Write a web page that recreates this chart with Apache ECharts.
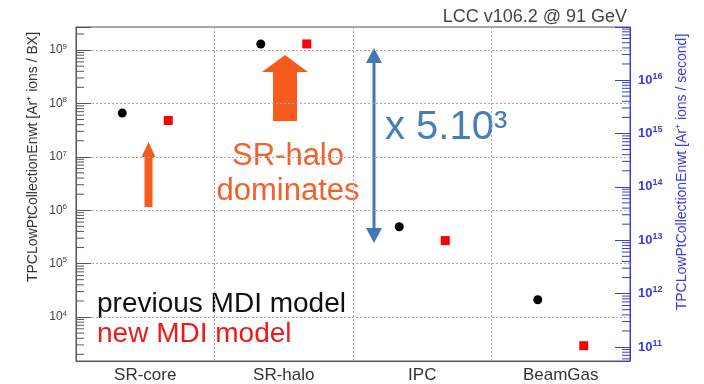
<!DOCTYPE html>
<html><head><meta charset="utf-8">
<script src="https://cdn.jsdelivr.net/npm/echarts@6/dist/echarts.min.js"></script>
<style>html,body{margin:0;padding:0;background:#fff}#c{width:704px;height:384px}</style>
</head><body><div id="c"></div>
<script>
const categories = ['SR-core', 'SR-halo', 'IPC', 'BeamGas'];
const previousModel = [6.6e7, 1.3e9, 4.9e5, 2.1e4];
const newModel = [4.8e7, 1.3e9, 2.7e5, 2.9e3];
const leftRange = [1500, 2.7e9];
const bxToSecond = 3.65e7;
const titleText = 'LCC v106.2 @ 91 GeV';
const leftTitle = 'TPCLowPtCollectionEnwt [Ar\u207A ions / BX]';
const rightTitle = 'TPCLowPtCollectionEnwt [Ar\u207A ions / second]';

const FONT = 'Liberation Sans, Arial, sans-serif';
function powLabel(v) {
  const l = Math.log10(v);
  const e = Math.round(l);
  if (Math.abs(l - e) > 1e-6) return '';
  return '10{sup|' + e + '}';
}
// log-spaced minor tick positions (axis decoration, not data)
function minorTicks(lo, hi) {
  const out = [];
  for (let e = Math.floor(Math.log10(lo)); e <= Math.ceil(Math.log10(hi)); e++) {
    for (let k = 2; k <= 9; k++) {
      const v = k * Math.pow(10, e);
      if (v > lo && v < hi) out.push([0, v]);
    }
  }
  return out;
}
const orange = '#f65a1c';
const steel = '#4178b4';
const blue = '#3a3ad6';
const rightRange = [leftRange[0] * bxToSecond, leftRange[1] * bxToSecond];

function tickRenderer(side, color) {
  return function (params, api) {
    const cs = params.coordSys;
    const y = api.coord([0, api.value(1)])[1];
    const x0 = side === 'left' ? cs.x : cs.x + cs.width;
    const x1 = side === 'left' ? cs.x + 8 : cs.x + cs.width - 8;
    return { type: 'line', shape: { x1: x0, y1: y, x2: x1, y2: y }, style: { stroke: color, lineWidth: 1 }, silent: true };
  };
}

const chart = echarts.init(document.getElementById('c'));
chart.setOption({
  animation: false,
  textStyle: { fontFamily: FONT },
  title: {
    text: titleText, right: 72, top: 3,
    textStyle: { fontSize: 18, fontWeight: 'normal', color: '#444', fontFamily: FONT }
  },
  grid: { left: 76, right: 74, top: 27, bottom: 23, show: true, borderColor: '#555', borderWidth: 1 },
  xAxis: {
    type: 'category', data: categories,
    axisLine: { lineStyle: { color: '#555' } },
    axisTick: { inside: true, length: 6, lineStyle: { color: '#555' } },
    axisLabel: { fontSize: 17, color: '#333', margin: 6, fontFamily: FONT },
    splitLine: { show: true, lineStyle: { color: '#aaa', type: [2, 2] } }
  },
  yAxis: [
    {
      type: 'log', logBase: 10, min: leftRange[0], max: leftRange[1], splitNumber: 6,
      axisLine: { show: true, lineStyle: { color: '#555' } },
      axisTick: { show: true, inside: true, length: 15, lineStyle: { color: '#555' } },
      axisLabel: {
        formatter: powLabel, color: '#444', fontSize: 12, margin: 9, fontFamily: FONT,
        rich: { sup: { fontSize: 8, color: '#444', padding: [0, 0, 7, 0], fontFamily: FONT } }
      },
      splitLine: { show: true, lineStyle: { color: '#aaa', type: [2, 2] } }
    },
    {
      type: 'log', logBase: 10, position: 'right',
      min: rightRange[0], max: rightRange[1], splitNumber: 6,
      axisLine: { show: true, lineStyle: { color: blue } },
      axisTick: { show: true, inside: true, length: 15, lineStyle: { color: blue } },
      axisLabel: {
        formatter: powLabel, color: blue, fontSize: 13, fontWeight: 'bold', margin: 8, fontFamily: FONT,
        rich: { sup: { fontSize: 9, fontWeight: 'bold', color: blue, padding: [0, 0, 8, 0], fontFamily: FONT } }
      },
      splitLine: { show: false }
    }
  ],
  series: [
    {
      type: 'custom', yAxisIndex: 0, data: minorTicks(leftRange[0], leftRange[1]),
      renderItem: tickRenderer('left', '#555'), silent: true, z: 1
    },
    {
      type: 'custom', yAxisIndex: 1, data: minorTicks(rightRange[0], rightRange[1]),
      renderItem: tickRenderer('right', blue), silent: true, z: 1
    },
    {
      name: 'previous MDI model', type: 'scatter', data: previousModel,
      symbol: 'circle', symbolSize: 9, symbolOffset: [-23, 0],
      itemStyle: { color: '#000', opacity: 1 }, z: 5
    },
    {
      name: 'new MDI model', type: 'scatter', data: newModel,
      symbol: 'rect', symbolSize: 9, symbolOffset: [23, 0],
      itemStyle: { color: '#f00', opacity: 1 }, z: 5
    }
  ],
  graphic: [
    { type: 'text', x: 33, y: 157, rotation: Math.PI / 2,
      style: { text: leftTitle, fill: '#333', font: '14px ' + FONT, align: 'center', verticalAlign: 'middle' } },
    { type: 'text', x: 682, y: 172, rotation: Math.PI / 2,
      style: { text: rightTitle, fill: blue, font: '14px ' + FONT, align: 'center', verticalAlign: 'middle' } },
    { type: 'text', x: 97, y: 304,
      style: { text: 'previous MDI model', fill: '#111', font: '28px ' + FONT, verticalAlign: 'middle' } },
    { type: 'text', x: 97, y: 334,
      style: { text: 'new MDI model', fill: '#f01818', font: '28px ' + FONT, verticalAlign: 'middle' } },
    { type: 'text', x: 288, y: 156,
      style: { text: 'SR-halo', fill: '#f0622a', font: '31px ' + FONT, align: 'center', verticalAlign: 'middle' } },
    { type: 'text', x: 288, y: 191,
      style: { text: 'dominates', fill: '#f0622a', font: '31px ' + FONT, align: 'center', verticalAlign: 'middle' } },
    { type: 'text', x: 385, y: 128,
      style: { text: 'x 5.10\u00B3', fill: '#4a7db8', font: '40px ' + FONT, verticalAlign: 'middle' } },
    { type: 'line', shape: { x1: 374, y1: 58, x2: 374, y2: 232 }, style: { stroke: steel, lineWidth: 3 } },
    { type: 'polygon', shape: { points: [[374, 48], [366, 63], [382, 63]] }, style: { fill: steel } },
    { type: 'polygon', shape: { points: [[374, 243], [366, 228], [382, 228]] }, style: { fill: steel } },
    { type: 'polygon', shape: { points: [[285, 55], [308, 72], [297, 72], [297, 121], [273, 121], [273, 72], [262, 72]] }, style: { fill: orange } },
    { type: 'polygon', shape: { points: [[148.5, 142], [155.5, 157], [152.5, 157], [152.5, 207], [144.5, 207], [144.5, 157], [141.5, 157]] }, style: { fill: orange } }
  ]
});
</script></body></html>
